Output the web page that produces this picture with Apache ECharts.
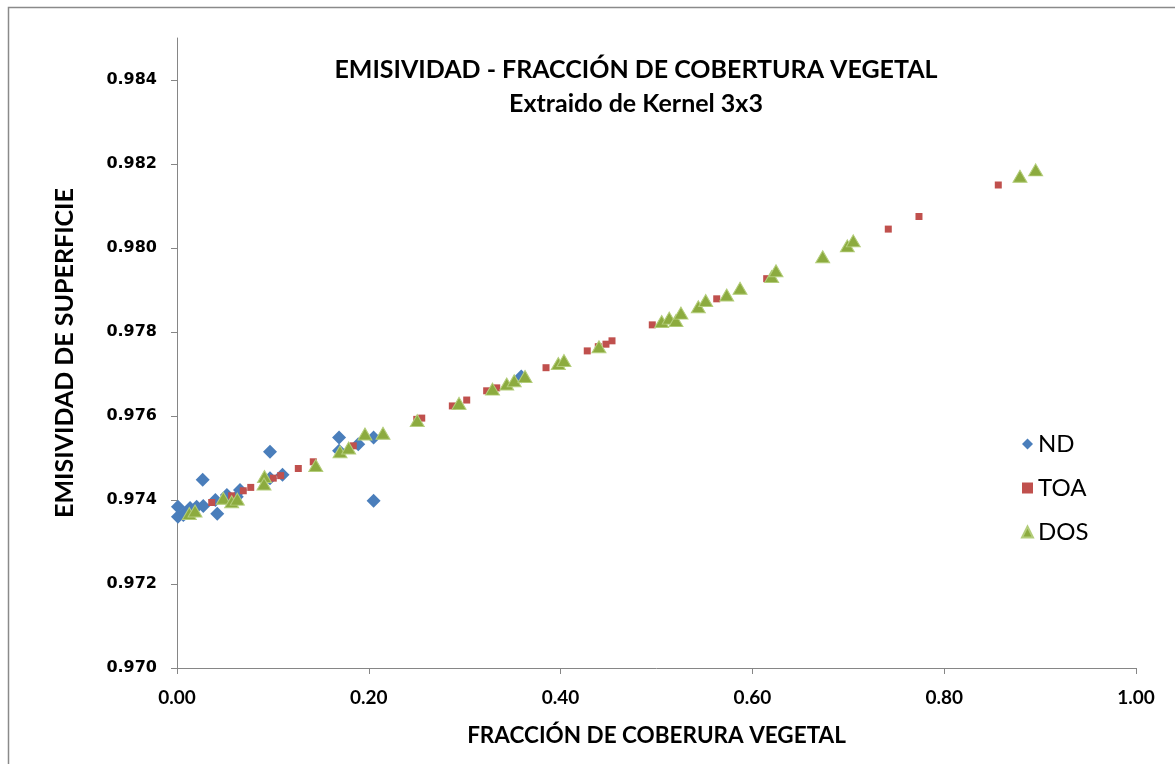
<!DOCTYPE html>
<html>
<head>
<meta charset="utf-8">
<script src="https://cdn.jsdelivr.net/npm/echarts@6/dist/echarts.min.js"></script>
<style>
  html, body {margin: 0; padding: 0; background: #fff;}
  #chart {width: 1175px; height: 764px;}
</style>
</head>
<body>
<div id="chart"></div>
<script>
// values
var ndX = [0.001, 0.001, 0.0066, 0.0083, 0.0136, 0.0205, 0.0268, 0.0274, 0.040, 0.042, 0.052,
	0.0623, 0.0657, 0.097, 0.097, 0.110, 0.169, 0.169, 0.189, 0.205, 0.205, 0.359];
var ndY = [0.97384, 0.97360, 0.97364, 0.97368, 0.97381, 0.97384, 0.97448, 0.97386, 0.97400, 0.97367, 0.97412,
	0.97408, 0.97424, 0.97515, 0.97452, 0.97460, 0.97549, 0.97517, 0.97533, 0.97549, 0.97398, 0.97694];

var toaX = [0.0362, 0.0570, 0.0691, 0.0769, 0.1004, 0.1081, 0.1265, 0.1421, 0.1838, 0.2500, 0.2552, 0.2871,
	0.3021, 0.3229, 0.3334, 0.3848, 0.4278, 0.4393, 0.4473, 0.4536, 0.4956, 0.5628, 0.6149, 0.7417,
	0.7737, 0.8564];
var toaY = [0.97394, 0.97410, 0.97422, 0.97430, 0.97452, 0.97458, 0.97475, 0.97491, 0.97529, 0.97592, 0.97595, 0.97624,
	0.97638, 0.97660, 0.97667, 0.97715, 0.97755, 0.97765, 0.97771, 0.97779, 0.97817, 0.97879, 0.97927, 0.98045,
	0.98075, 0.98150];

var dosX = [0.0128, 0.0188, 0.0483, 0.0570, 0.0629, 0.0912, 0.0907, 0.1447, 0.1700, 0.1790, 0.1960, 0.2148,
	0.2505, 0.2941, 0.3290, 0.3438, 0.3516, 0.3629, 0.3976, 0.4035, 0.4400, 0.5054, 0.5133, 0.5203,
	0.5255, 0.5436, 0.5513, 0.5732, 0.5871, 0.6201, 0.6246, 0.6733, 0.6990, 0.7052, 0.8790, 0.8954];
var dosY = [0.97368, 0.97374, 0.97404, 0.97396, 0.97402, 0.97456, 0.97438, 0.97482, 0.97515, 0.97524, 0.97557, 0.97559,
	0.97589, 0.97630, 0.97664, 0.97676, 0.97684, 0.97694, 0.97725, 0.97732, 0.97765, 0.97825, 0.97833, 0.97827,
	0.97845, 0.97860, 0.97875, 0.97888, 0.97904, 0.97932, 0.97946, 0.97979, 0.98005, 0.98017, 0.98171, 0.98186];

var seriesNames = ['ND', 'TOA', 'DOS'];
var yTicks = [0.970, 0.972, 0.974, 0.976, 0.978, 0.980, 0.982, 0.984];
var xTicks = [0, 0.2, 0.4, 0.6, 0.8, 1.0];

function pairs(xs, ys){
	var out = [];
	for (var i = 0; i < xs.length; i++){
		out.push([xs[i], ys[i]]);
	}
	return out;
}

var chart = echarts.init(document.getElementById('chart'));
var calibri = 'Lato, "Open Sans", sans-serif';

option = {
	animation: false,
	backgroundColor: '#fff',
	title: {
		text: 'EMISIVIDAD - FRACCIÓN DE COBERTURA VEGETAL',
		subtext: 'Extraido de Kernel 3x3',
		left: 631,
		textAlign: 'center',
		top: 52,
		itemGap: 9,
		textStyle: {fontFamily: calibri, fontWeight: 'bold', fontSize: 25, color: '#000'},
		subtextStyle: {fontFamily: calibri, fontWeight: 'bold', fontSize: 25, color: '#000'}
	},
	legend: {
		data: seriesNames,
		orient: 'vertical',
		left: 1016,
		top: 427,
		itemGap: 20,
		itemWidth: 11,
		itemHeight: 11,
		textStyle: {fontFamily: calibri, fontSize: 24, color: '#000'}
	},
	grid: {left: 177, right: 39, top: 38, bottom: 96},
	xAxis: {
		type: 'value',
		min: 0,
		max: 1,
		interval: 0.2,
		name: 'FRACCIÓN DE COBERURA VEGETAL',
		nameLocation: 'middle',
		nameGap: 56,
		nameTextStyle: {fontFamily: calibri, fontWeight: 'bold', fontSize: 22.5, color: '#000'},
		axisLine: {lineStyle: {color: '#868686', width: 1}},
		axisTick: {show: true, inside: false, length: 6, lineStyle: {color: '#868686'}, customValues: xTicks},
		axisLabel: {
			color: '#000', fontFamily: calibri, fontWeight: 'bold', fontSize: 19, margin: 20,
			customValues: xTicks,
			formatter: function(v){ return v.toFixed(2); }
		},
		splitLine: {show: false}
	},
	yAxis: {
		type: 'value',
		min: 0.970,
		max: 0.985,
		interval: 0.002,
		name: 'EMISIVIDAD DE SUPERFICIE',
		nameLocation: 'middle',
		nameGap: 100,
		nameTextStyle: {fontFamily: calibri, fontWeight: 'bold', fontSize: 25, color: '#000'},
		axisLine: {show: true, lineStyle: {color: '#868686', width: 1}},
		axisTick: {show: true, inside: false, length: 6, lineStyle: {color: '#868686'}, customValues: yTicks},
		axisLabel: {
			color: '#000', fontFamily: '"DejaVu Sans", Verdana, sans-serif', fontWeight: 'bold', fontSize: 16, margin: 20,
			customValues: yTicks,
			formatter: function(v){ return v.toFixed(3); }
		},
		splitLine: {show: false}
	},
	graphic: [{
		type: 'rect',
		silent: true,
		shape: {x: 8.5, y: 7.5, width: 1400, height: 1000},
		style: {fill: 'none', stroke: '#8a8a8a', lineWidth: 1.5}
	}],
	series: [{
		type: 'scatter',
		name: 'ND',
		symbol: 'diamond',
		symbolSize: 14,
		itemStyle: {color: '#4A7EBB', opacity: 1},
		data: pairs(ndX, ndY)
	},
	{
		type: 'scatter',
		name: 'TOA',
		symbol: 'rect',
		symbolSize: 7,
		itemStyle: {color: '#C0504D', opacity: 1},
		data: pairs(toaX, toaY)
	},
	{
		type: 'scatter',
		name: 'DOS',
		symbol: 'triangle',
		symbolSize: [14, 12],
		itemStyle: {color: '#8CAB3F', borderColor: '#B3CD7A', borderWidth: 1, opacity: 1},
		data: pairs(dosX, dosY)
	}]
};
chart.setOption(option);
</script>
</body>
</html>
